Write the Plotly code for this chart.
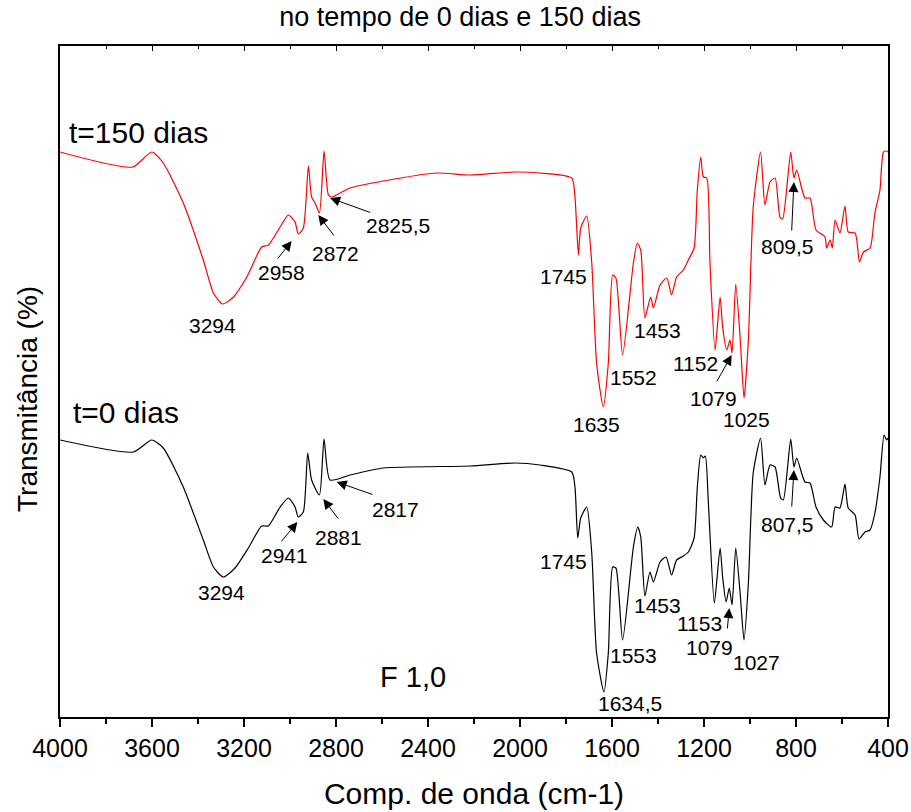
import plotly.graph_objects as go

# ---- data (wavenumber cm-1, transmittance arbitrary units) ----
wn_150 = [4000, 3684, 3601, 3551, 3464, 3377, 3333, 3293, 3246, 3188, 3123, 3094, 3043, 3007,
          2978, 2964, 2942, 2920, 2906, 2891, 2872, 2852, 2833, 2819, 2739, 2594, 2362, 2217,
          2022, 1913, 1775, 1761, 1746, 1736, 1710, 1688, 1667, 1638, 1616, 1597, 1583, 1554,
          1507, 1490, 1475, 1457, 1432, 1420, 1391, 1362, 1341, 1319, 1290, 1268, 1243, 1229,
          1214, 1203, 1188, 1174, 1152, 1130, 1119, 1101, 1087, 1078, 1062, 1043, 1026, 1007,
          986, 954, 935, 913, 891, 870, 858, 823, 809, 797, 761, 739, 713, 674, 667, 652, 642,
          630, 609, 587, 573, 543, 524, 507, 478, 457, 435, 420, 406, 400]
tr_150 = [56.5, 55.0, 56.5, 55.4, 51.4, 45.7, 42.4, 41.3, 42.0, 44.0, 47.0, 47.2, 49.0, 50.2,
          49.5, 48.3, 48.9, 55.1, 52.0, 51.4, 50.4, 56.6, 52.2, 52.0, 52.9, 53.6, 54.4, 54.2,
          54.5, 54.4, 53.9, 52.0, 46.2, 48.9, 50.1, 45.4, 35.4, 31.0, 35.4, 44.2, 43.9, 36.2,
          45.4, 47.4, 46.7, 39.9, 42.0, 40.9, 43.2, 43.9, 42.2, 44.0, 44.7, 45.7, 46.9, 52.7,
          56.0, 54.0, 53.9, 45.4, 36.7, 42.0, 39.0, 36.7, 37.7, 36.4, 43.3, 38.0, 31.9, 37.7,
          51.0, 56.5, 51.2, 53.5, 53.9, 50.0, 49.8, 56.5, 53.9, 54.7, 51.9, 51.9, 48.7, 48.0,
          46.9, 47.7, 46.9, 49.7, 48.4, 51.1, 48.5, 48.4, 45.5, 46.5, 46.9, 50.4, 52.7, 56.5,
          56.6, 56.5]

wn_0 = [4000, 3681, 3601, 3551, 3464, 3377, 3333, 3290, 3239, 3181, 3123, 3094, 3043, 3007,
        2978, 2964, 2942, 2923, 2906, 2872, 2852, 2826, 2739, 2594, 2217, 2022, 1913, 1775,
        1761, 1749, 1736, 1710, 1688, 1667, 1635, 1616, 1597, 1583, 1554, 1507, 1488, 1475,
        1457, 1435, 1420, 1391, 1365, 1341, 1319, 1290, 1268, 1243, 1229, 1214, 1203, 1194,
        1181, 1155, 1130, 1119, 1104, 1090, 1078, 1062, 1043, 1026, 1007, 986, 954, 935, 913,
        891, 867, 855, 823, 809, 797, 761, 739, 713, 681, 645, 630, 609, 587, 573, 543, 526,
        500, 478, 457, 435, 417, 406, 400]
tr_0 = [27.7, 26.5, 27.7, 26.9, 23.0, 17.7, 15.0, 14.0, 14.9, 16.9, 19.1, 19.1, 21.0, 21.9,
        21.0, 20.0, 20.5, 26.4, 23.7, 22.2, 27.8, 23.7, 24.2, 24.9, 25.1, 25.4, 25.2, 24.5,
        23.0, 17.9, 19.9, 21.0, 16.4, 6.4, 2.5, 6.4, 15.0, 14.9, 7.7, 17.0, 19.0, 18.0,
        12.1, 14.5, 13.5, 15.5, 16.0, 14.2, 15.7, 16.1, 16.5, 17.9, 23.0, 26.2, 25.9, 26.1,
        21.4, 11.4, 16.9, 14.0, 11.5, 12.9, 11.2, 16.9, 12.4, 7.7, 13.4, 24.4, 27.9, 23.2, 25.2,
        25.0, 21.9, 21.7, 27.8, 25.0, 25.9, 23.5, 23.4, 21.0, 19.7, 19.0, 21.0, 20.9, 23.3, 20.9,
        20.2, 17.8, 18.5, 18.7, 20.4, 24.0, 28.2, 27.7, 27.9]

series_names = ["t=150 dias", "t=0 dias"]
tick_vals = [4000, 3600, 3200, 2800, 2400, 2000, 1600, 1200, 800, 400]

# peak labels: (text, x, y)
labels_150 = [("3294", 3335, 39.2), ("2958", 3035, 44.5), ("2872", 2804, 46.4),
              ("2825,5", 2530, 49.2), ("1745", 1809, 44.1), ("1635", 1667, 29.3),
              ("1552", 1507, 34.0), ("1453", 1403, 38.7), ("1152", 1235, 35.4),
              ("1079", 1160, 31.9), ("1025", 1014, 29.8), ("809,5", 838, 47.1)]
labels_0 = [("3294", 3300, 12.5), ("2941", 3022, 16.2), ("2881", 2790, 18.0),
            ("2817", 2543, 20.8), ("1745", 1809, 15.6), ("1634,5", 1522, 1.4),
            ("1553", 1507, 6.2), ("1453", 1403, 11.2), ("1153", 1220, 9.4),
            ("1079", 1177, 7.0), ("1027", 971, 5.5), ("807,5", 838, 19.3)]
# arrows: (tail x, tail y, head x, head y)
arrows = [(3058, 45.7, 2993, 47.6), (2804, 48.0, 2877, 50.2), (2645, 50.4, 2826, 51.9),
          (1148, 33.4, 1080, 36.2), (819, 48.5, 809, 53.5),
          (3043, 17.4, 2968, 19.5), (2786, 19.7, 2855, 21.8), (2635, 22.2, 2797, 23.5),
          (1099, 8.7, 1090, 10.9), (819, 20.9, 809, 24.7)]

FONT = "Arial, Liberation Sans, sans-serif"

fig = go.Figure()
fig.add_trace(go.Scatter(x=wn_150, y=tr_150, mode="lines", name=series_names[0],
                         line=dict(color="#ff0000", width=1.2, shape="spline", smoothing=0.6),
                         showlegend=False))
fig.add_trace(go.Scatter(x=wn_0, y=tr_0, mode="lines", name=series_names[1],
                         line=dict(color="#000000", width=1.2, shape="spline", smoothing=0.6),
                         showlegend=False))
# helper trace for the top axis
fig.add_trace(go.Scatter(x=[4000], y=[None], xaxis="x2", mode="lines",
                         showlegend=False, hoverinfo="skip"))

ann = []
for t, x, y in labels_150 + labels_0:
    ann.append(dict(text=t, x=x, y=y, xref="x", yref="y", showarrow=False,
                    font=dict(size=21, color="black", family=FONT)))
for tx, ty, hx, hy in arrows:
    ann.append(dict(text="", x=hx, y=hy, ax=tx, ay=ty, xref="x", yref="y",
                    axref="x", ayref="y", showarrow=True, arrowhead=2,
                    arrowsize=2, arrowwidth=1, arrowcolor="black"))
ann.append(dict(text="t=150 dias", x=3970, y=58.5, xref="x", yref="y", xanchor="left",
                showarrow=False, font=dict(size=30, color="black", family=FONT)))
ann.append(dict(text="t=0 dias", x=3952, y=30.5, xref="x", yref="y", xanchor="left",
                showarrow=False, font=dict(size=30, color="black", family=FONT)))
ann.append(dict(text="F 1,0", x=2465, y=4.0, xref="x", yref="y",
                showarrow=False, font=dict(size=29, color="black", family=FONT)))
# y-axis title (placed as rotated text)
ann.append(dict(text="Transmitância (%)", x=-0.0386, y=0.474, xref="paper", yref="paper",
                xanchor="center", yanchor="middle", textangle=-90, showarrow=False,
                font=dict(size=28, color="black", family=FONT)))

fig.update_layout(
    width=911, height=812,
    margin=dict(l=60, r=23, t=46, b=95),
    paper_bgcolor="white", plot_bgcolor="white",
    font=dict(family=FONT, color="black"),
    title=dict(text="no tempo de 0 dias e 150 dias", x=0.505, xanchor="center",
               y=0.980, yanchor="middle", font=dict(size=27, family=FONT, color="black")),
    xaxis=dict(range=[4000, 400], tickvals=tick_vals, ticks="outside", ticklen=8,
               tickwidth=1.5, tickcolor="black", automargin=False,
               minor=dict(dtick=200, tick0=0, ticks="outside", ticklen=5, tickwidth=1.5,
                          tickcolor="black"),
               showline=True, linewidth=2, linecolor="black", showgrid=False, zeroline=False,
               tickfont=dict(size=25, family=FONT, color="black"),
               title=dict(text="Comp. de onda (cm-1)", standoff=22,
                          font=dict(size=30, family=FONT, color="black"))),
    xaxis2=dict(range=[4000, 400], overlaying="x", side="top", tickvals=tick_vals,
                ticks="inside", ticklen=5, tickwidth=1, tickcolor="black", automargin=False,
                minor=dict(dtick=200, tick0=0, ticks="inside", ticklen=3, tickwidth=1,
                           tickcolor="black"),
                showticklabels=False, showline=True, linewidth=2, linecolor="black",
                showgrid=False, zeroline=False),
    yaxis=dict(range=[0, 67.1], showticklabels=False, ticks="", showgrid=False,
               zeroline=False, showline=True, linewidth=2, linecolor="black", mirror=True,
               automargin=False),
    annotations=ann,
)

fig.write_html("out.html")
